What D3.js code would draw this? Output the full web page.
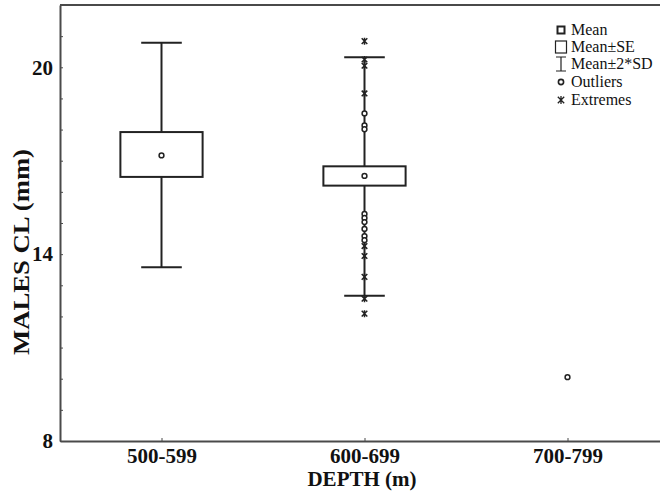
<!DOCTYPE html>
<html>
<head>
<meta charset="utf-8">
<script src="https://cdn.jsdelivr.net/npm/d3@7"></script>
<style>
  html, body { margin: 0; padding: 0; background: #fff; }
  svg { display: block; }
  text { font-family: "Liberation Serif", "Times New Roman", serif; fill: #111; }
</style>
</head>
<body>
<script>
// ---- data ----
const categories = ["500-599", "600-699", "700-799"];
const means  = [17.17, 16.51, 10.05];
const seHigh = [17.92, 16.82, null];
const seLow  = [16.48, 16.20, null];
const sdHigh = [20.79, 20.32, null];
const sdLow  = [13.58, 12.66, null];
const outliers = [[], [18.52, 18.13, 18.01, 15.29, 15.16, 15.03, 14.81, 14.58, 14.45], []];
const extremes = [[], [20.84, 20.25, 20.05, 19.16, 14.26, 13.94, 13.27, 12.57, 12.09], []];
const yMinorTicks = d3.range(8, 23, 1);
const yTickLabels = [8, 14, 20];
const legendLabels = ["Mean", "Mean±SE", "Mean±2*SD", "Outliers", "Extremes"];

// ---- layout ----
const W = 660, H = 493;
const mLeft = 60, mRight = 669, mTop = 5, mBottom = 441;
const axisColor = "#4a4a4a";
const ink = "#222";

const svg = d3.select("body").append("svg").attr("width", W).attr("height", H);

const x = d3.scalePoint().domain(categories).range([mLeft, mRight]).padding(0.5);
const y = d3.scaleLinear().domain([8, 22]).range([mBottom, mTop]);
const step = x.step();
const boxW = step * 0.405;
const capW = step * 0.2;

// frame top line
svg.append("line").attr("x1", mLeft).attr("x2", mRight).attr("y1", mTop).attr("y2", mTop)
  .attr("stroke", axisColor).attr("stroke-width", 2);

// y axis
const yAxis = d3.axisLeft(y).tickValues(yMinorTicks).tickSize(-3).tickSizeOuter(0).tickPadding(7)
  .tickFormat(d => yTickLabels.includes(d) ? d : "");
const gy = svg.append("g").attr("transform", `translate(${mLeft},0)`).call(yAxis);
gy.select(".domain").attr("stroke", axisColor).attr("stroke-width", 2);
gy.selectAll(".tick line").attr("stroke", axisColor).attr("stroke-width", 1);
gy.selectAll("text").style("font-size", "21px").style("font-weight", "bold").attr("fill", "#111");

// x axis
const xAxis = d3.axisBottom(x).tickSize(-3).tickSizeOuter(0).tickPadding(7);
const gx = svg.append("g").attr("transform", `translate(0,${mBottom})`).call(xAxis);
gx.select(".domain").attr("stroke", axisColor).attr("stroke-width", 2);
gx.selectAll(".tick line").attr("stroke", axisColor).attr("stroke-width", 1);
gx.selectAll("text").style("font-size", "21px").style("font-weight", "bold").attr("fill", "#111");

// axis titles
svg.append("text").attr("x", 362).attr("y", 486).attr("text-anchor", "middle")
  .style("font-size", "21px").style("font-weight", "bold").text("DEPTH (m)");
svg.append("text").attr("transform", "translate(29,252) rotate(-90)").attr("text-anchor", "middle")
  .style("font-size", "23px").style("font-weight", "bold")
  .attr("textLength", 206).attr("lengthAdjust", "spacingAndGlyphs").text("MALES CL (mm)");

// ---- boxes ----
function asterisk(cx, cy, r) {
  const d = r * 0.8;
  return `M${cx},${cy - r}L${cx},${cy + r}M${cx - d},${cy - d}L${cx + d},${cy + d}M${cx - d},${cy + d}L${cx + d},${cy - d}`;
}

const plot = svg.append("g");
categories.forEach((c, i) => {
  const cx = x(c);
  if (sdHigh[i] != null) {
    plot.append("line").attr("x1", cx).attr("x2", cx).attr("y1", y(sdHigh[i])).attr("y2", y(sdLow[i]))
      .attr("stroke", ink).attr("stroke-width", 2);
    [sdHigh[i], sdLow[i]].forEach(v => {
      plot.append("line").attr("x1", cx - capW / 2).attr("x2", cx + capW / 2).attr("y1", y(v)).attr("y2", y(v))
        .attr("stroke", ink).attr("stroke-width", 2);
    });
  }
  if (seHigh[i] != null) {
    plot.append("rect").attr("x", cx - boxW / 2).attr("y", y(seHigh[i]))
      .attr("width", boxW).attr("height", y(seLow[i]) - y(seHigh[i]))
      .attr("fill", "#fff").attr("stroke", ink).attr("stroke-width", 2);
  }
  plot.append("circle").attr("cx", cx).attr("cy", y(means[i])).attr("r", 2.4)
    .attr("fill", "#fff").attr("stroke", ink).attr("stroke-width", 1.5);
  outliers[i].forEach(v => {
    plot.append("circle").attr("cx", cx).attr("cy", y(v)).attr("r", 2.4)
      .attr("fill", "#fff").attr("stroke", ink).attr("stroke-width", 1.5);
  });
  extremes[i].forEach(v => {
    plot.append("path").attr("d", asterisk(cx, y(v), 3.5))
      .attr("fill", "none").attr("stroke", ink).attr("stroke-width", 1.5);
  });
});

// ---- legend ----
const lg = svg.append("g");
const lx = 561, rowY = [30, 47, 64, 82, 100];
lg.append("rect").attr("x", lx - 3.5).attr("y", rowY[0] - 3.5).attr("width", 7).attr("height", 7)
  .attr("fill", "#fff").attr("stroke", ink).attr("stroke-width", 2);
lg.append("rect").attr("x", lx - 5.5).attr("y", rowY[1] - 6).attr("width", 11).attr("height", 12)
  .attr("fill", "#fff").attr("stroke", ink).attr("stroke-width", 1.2);
lg.append("path").attr("d", `M${lx - 5},${rowY[2] - 7}H${lx + 5}M${lx},${rowY[2] - 7}V${rowY[2] + 7}M${lx - 5},${rowY[2] + 7}H${lx + 5}`)
  .attr("fill", "none").attr("stroke", ink).attr("stroke-width", 1.2);
lg.append("circle").attr("cx", lx).attr("cy", rowY[3]).attr("r", 2.6)
  .attr("fill", "#fff").attr("stroke", ink).attr("stroke-width", 1.6);
lg.append("path").attr("d", asterisk(lx, rowY[4], 4))
  .attr("fill", "none").attr("stroke", ink).attr("stroke-width", 1.3);
legendLabels.forEach((t, i) => {
  lg.append("text").attr("x", 571).attr("y", rowY[i] + 5).style("font-size", "16px").text(t);
});
</script>
</body>
</html>
